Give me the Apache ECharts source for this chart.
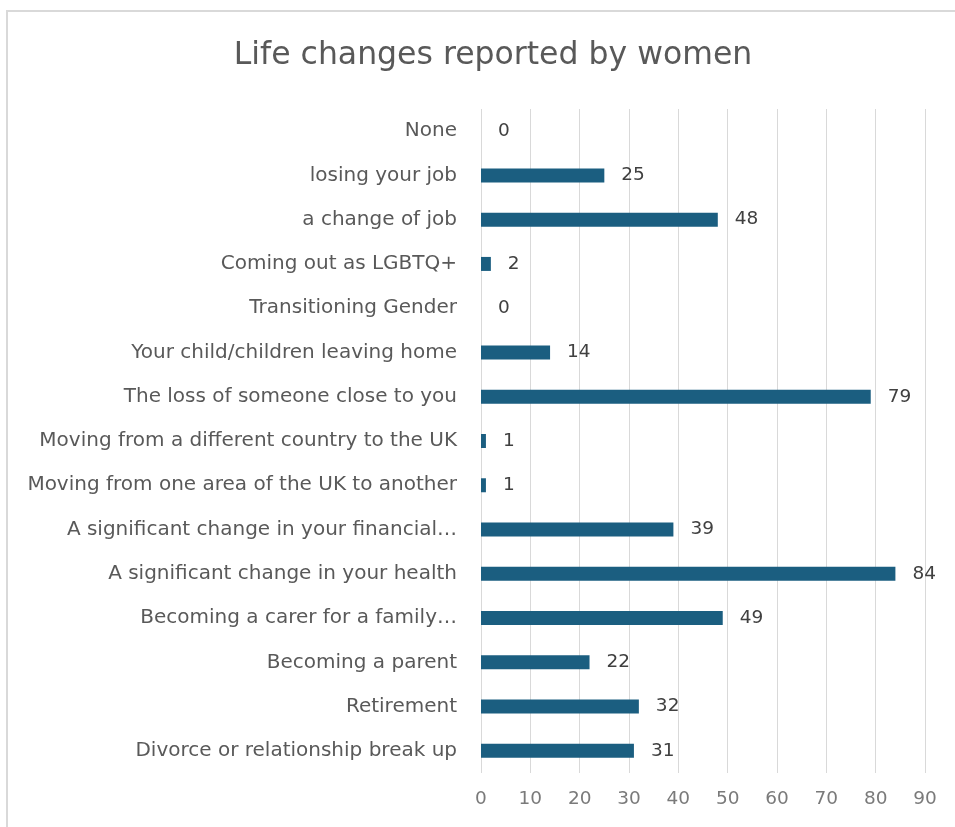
<!DOCTYPE html>
<html>
<head>
<meta charset="utf-8">
<script src="https://cdn.jsdelivr.net/npm/echarts@6/dist/echarts.min.js"></script>
<style>
  html, body { margin: 0; padding: 0; background: #fff; }
  #chart { width: 955px; height: 827px; }
</style>
</head>
<body>
<div id="chart"></div>
<script>
// Life changes, listed top to bottom
const categories = [
  'None',
  'losing your job',
  'a change of job',
  'Coming out as LGBTQ+',
  'Transitioning Gender',
  'Your child/children leaving home',
  'The loss of someone close to you',
  'Moving from a different country to the UK',
  'Moving from one area of the UK to another',
  'A significant change in your financial\u2026',
  'A significant change in your health',
  'Becoming a carer for a family\u2026',
  'Becoming a parent',
  'Retirement',
  'Divorce or relationship break up'
];
const counts = [0, 25, 48, 2, 0, 14, 79, 1, 1, 39, 84, 49, 22, 32, 31];
const xTicks = { min: 0, max: 90, step: 10 };

const chart = echarts.init(document.getElementById('chart'));
const font = '"DejaVu Sans", "Noto Sans", sans-serif';

chart.setOption({
  animation: false,
  textStyle: { fontFamily: font },
  title: {
    text: 'Life changes reported by women',
    left: 488,
    top: 35,
    textAlign: 'center',
    textStyle: { fontFamily: font, fontSize: 31.5, fontWeight: 'normal', color: '#595959' }
  },
  graphic: [{
    type: 'rect',
    shape: { x: 7, y: 11, width: 960, height: 840 },
    style: { fill: 'none', stroke: '#d9d9d9', lineWidth: 2 },
    silent: true
  }],
  grid: { left: 481, right: 30, top: 109, bottom: 54, containLabel: false },
  xAxis: {
    type: 'value',
    min: xTicks.min,
    max: xTicks.max,
    interval: xTicks.step,
    axisLine: { show: false },
    axisTick: { show: false },
    splitLine: { lineStyle: { color: '#d9d9d9', width: 1 } },
    axisLabel: { fontFamily: font, fontSize: 18.5, color: '#7a7a7a', margin: 17 }
  },
  yAxis: {
    type: 'category',
    inverse: true,
    data: categories,
    axisLine: { show: false },
    axisTick: { show: false },
    axisLabel: { fontFamily: font, fontSize: 20, color: '#595959', margin: 24 }
  },
  series: [{
    type: 'bar',
    data: counts,
    barWidth: 14,
    itemStyle: { color: '#1b5e80' },
    label: {
      show: true,
      position: 'right',
      distance: 17,
      fontFamily: font,
      fontSize: 18.5,
      color: '#404040'
    }
  }]
});
</script>
</body>
</html>
